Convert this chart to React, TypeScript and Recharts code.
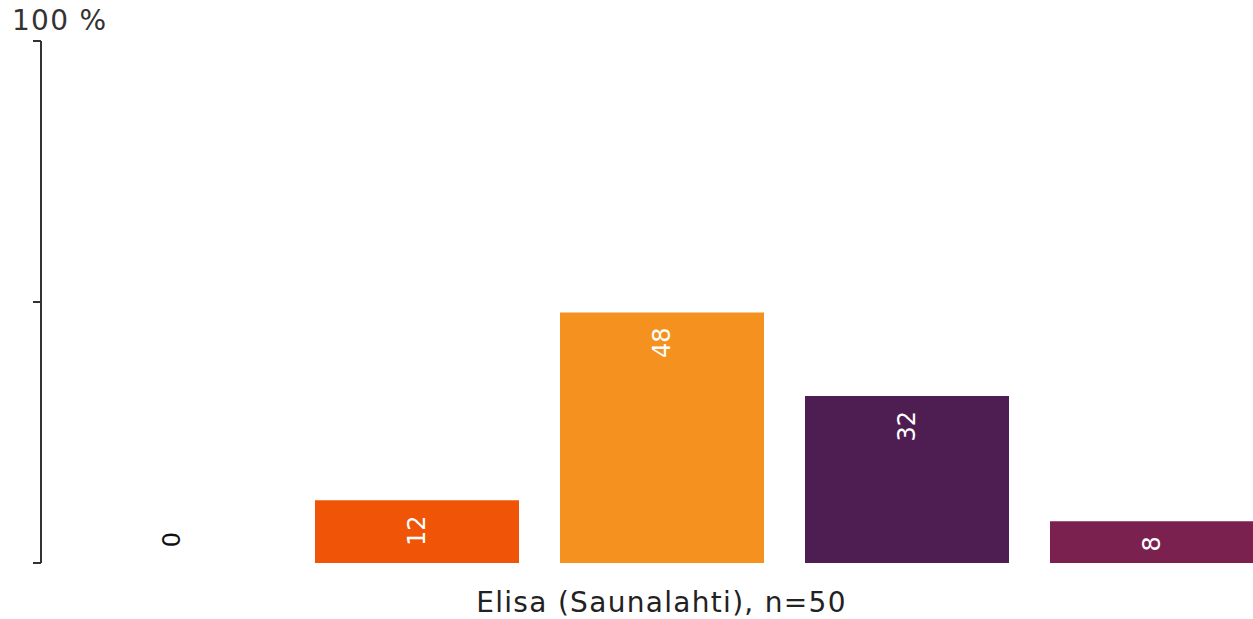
import { BarChart, Bar, XAxis, YAxis, LabelList } from 'recharts'

const categories = ['Elisa (Saunalahti), n=50']
const seriesKeys = ['s1', 's2', 's3', 's4', 's5']
const seriesValues = [0, 12, 48, 32, 8]
const seriesColors = ['#f6931f', '#ef5407', '#f5921f', '#4e1d51', '#7b2150']
const yTicks = [0, 50, 100]

const data = categories.map((name) => {
  const row: Record<string, string | number> = { name }
  seriesKeys.forEach((k, i) => { row[k] = seriesValues[i] })
  return row
})

const FONT = '"DejaVu Sans", Verdana, sans-serif'

function BarValue(props: any) {
  const { x, y, width, value } = props
  const cx = Number(x) + Number(width) / 2
  const zero = Number(value) === 0
  const ty = zero ? Number(y) - 31 : Number(y) + 15
  return (
    <text
      x={cx}
      y={ty}
      transform={`rotate(-90 ${cx} ${ty})`}
      textAnchor="end"
      dominantBaseline="central"
      fontFamily={FONT}
      fontSize={24}
      fill={zero ? '#111' : '#fff'}
    >
      {String(value)}
    </text>
  )
}

function YTick(props: any) {
  const { payload } = props
  if (payload.value !== 100) return null
  return (
    <text x={12} y={30} fontFamily={FONT} fontSize={28} letterSpacing={1.3} fill="#333">
      100 %
    </text>
  )
}

export default function App() {
  return (
    <div style={{ position: 'absolute', left: 0, top: 0 }}>
      <BarChart
        width={1253}
        height={619}
        data={data}
        margin={{ top: 41, right: -29, left: 0, bottom: 0 }}
        barCategoryGap={29}
        barGap={41}
      >
        <XAxis
          dataKey="name"
          axisLine={false}
          tickLine={false}
          height={56}
          tick={{ fill: '#222', fontSize: 28, fontFamily: FONT, letterSpacing: 1.3, dy: 21 }}
        />
        <YAxis
          domain={[0, 100]}
          ticks={yTicks}
          width={41}
          axisLine={{ stroke: '#333', strokeWidth: 2 }}
          tickLine={{ stroke: '#333', strokeWidth: 2 }}
          tickSize={8}
          tick={<YTick />}
        />
        {seriesKeys.map((k, i) => (
          <Bar key={k} dataKey={k} fill={seriesColors[i]} minPointSize={0.01} isAnimationActive={false}>
            <LabelList dataKey={k} content={<BarValue />} />
          </Bar>
        ))}
      </BarChart>
    </div>
  )
}
